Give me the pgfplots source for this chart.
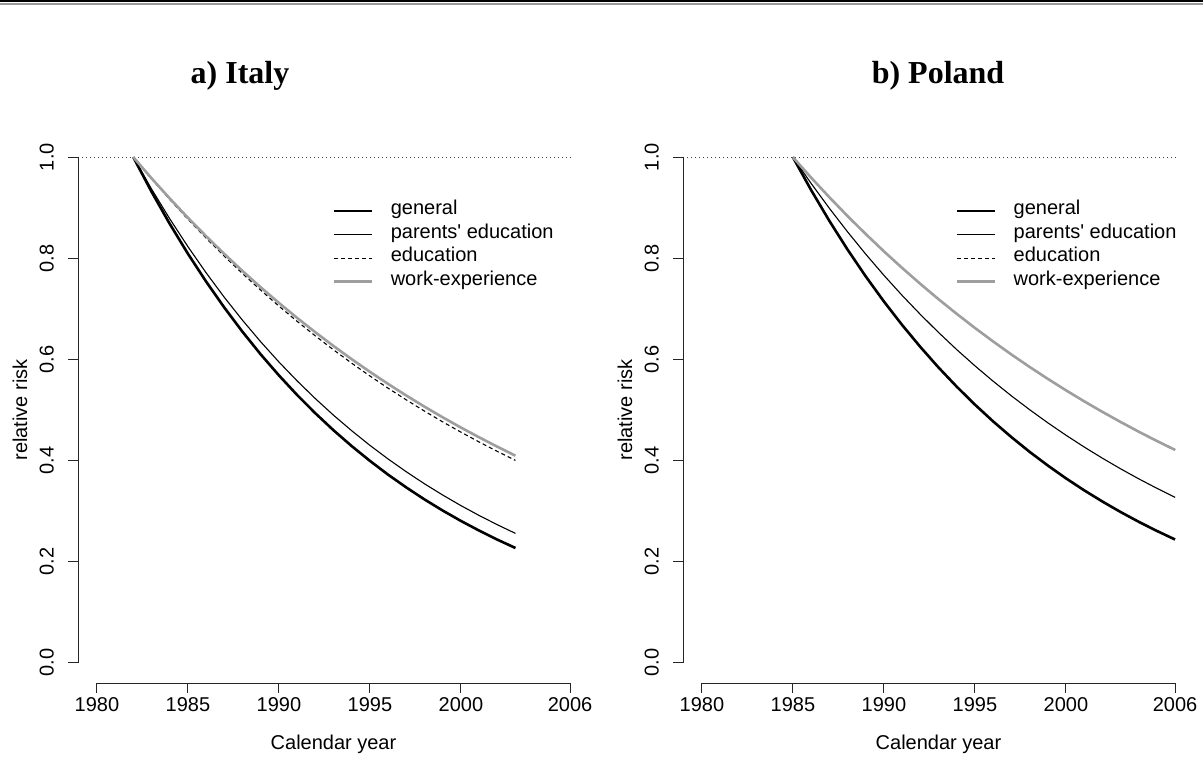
\documentclass[border=0pt]{standalone}
\usepackage{fontspec}
\setmainfont{Liberation Sans}
\newfontfamily\titlefont{Liberation Serif}
\usepackage{pgfplots}
\usepackage{pgfplotstable}
\pgfplotsset{compat=1.18}
\definecolor{wgray}{gray}{0.62}

\pgfplotstableread{
year gen par edu wrk
1982 1.0000 1.0000 1.0000 1.0000
1983 0.9318 0.9372 0.9573 0.9584
1984 0.8683 0.8783 0.9165 0.9185
1985 0.8091 0.8231 0.8774 0.8803
1986 0.7540 0.7714 0.8400 0.8437
1987 0.7026 0.7229 0.8041 0.8086
1988 0.6547 0.6775 0.7698 0.7749
1989 0.6100 0.6349 0.7370 0.7427
1990 0.5685 0.5950 0.7055 0.7118
1991 0.5297 0.5576 0.6754 0.6822
1992 0.4936 0.5226 0.6466 0.6538
1993 0.4599 0.4897 0.6190 0.6266
1994 0.4286 0.4590 0.5926 0.6005
1995 0.3994 0.4301 0.5673 0.5755
1996 0.3721 0.4031 0.5431 0.5516
1997 0.3468 0.3778 0.5200 0.5286
1998 0.3231 0.3540 0.4978 0.5066
1999 0.3011 0.3318 0.4765 0.4855
2000 0.2806 0.3109 0.4562 0.4653
2001 0.2615 0.2914 0.4368 0.4460
2002 0.2436 0.2731 0.4181 0.4274
2003 0.2270 0.2559 0.4003 0.4096
}\italy

\pgfplotstableread{
year gen par edu wrk
1985 1.0000 1.0000 1.0000 1.0000
1986 0.9350 0.9482 0.9596 0.9596
1987 0.8742 0.8991 0.9209 0.9209
1988 0.8174 0.8525 0.8837 0.8837
1989 0.7643 0.8083 0.8481 0.8481
1990 0.7146 0.7664 0.8138 0.8138
1991 0.6682 0.7267 0.7810 0.7810
1992 0.6248 0.6891 0.7495 0.7495
1993 0.5841 0.6534 0.7192 0.7192
1994 0.5462 0.6195 0.6902 0.6902
1995 0.5107 0.5874 0.6623 0.6623
1996 0.4775 0.5570 0.6356 0.6356
1997 0.4465 0.5281 0.6099 0.6099
1998 0.4174 0.5008 0.5853 0.5853
1999 0.3903 0.4748 0.5617 0.5617
2000 0.3649 0.4502 0.5390 0.5390
2001 0.3412 0.4269 0.5173 0.5173
2002 0.3191 0.4048 0.4964 0.4964
2003 0.2983 0.3838 0.4764 0.4764
2004 0.2789 0.3639 0.4571 0.4571
2005 0.2608 0.3451 0.4387 0.4387
2006 0.2438 0.3272 0.4210 0.4210
}\poland

\newcommand{\rfont}{\fontsize{20}{24}\selectfont}

\pgfplotsset{
  rstyle/.style={
    scale only axis, width=511pt, height=546pt,
    anchor=south west,
    xmin=1978.96, xmax=2007.04, ymin=-0.04, ymax=1.04,
    axis x line*=bottom, axis y line*=left,
    axis line style={draw=none},
    xtick={1980,1985,1990,1995,2000,2006},
    xticklabels={1980,1985,1990,1995,2000,2006},
    ytick={0,0.2,0.4,0.6,0.8,1},
    yticklabels={0.0,0.2,0.4,0.6,0.8,1.0},
    /pgf/number format/assume math mode=true,
    tick align=outside, major tick length=10pt,
    tick style={black!85, line width=0.9pt},
    tick label style={font=\rfont, inner sep=0pt},
    xticklabel style={anchor=north, yshift=-4pt},
    yticklabel style={xshift=-14pt, rotate=90, anchor=south},
    label style={font=\rfont, inner sep=0pt},
    xlabel={Calendar year},
    ylabel={relative risk},
    xlabel style={at={(axis description cs:0.5,-0.1209)}, anchor=base},
    ylabel style={at={(axis description cs:-0.0998,0.5)}, anchor=base},
    legend style={draw=none, fill=none, inner sep=0pt, row sep=4.6pt,
      font=\rfont,
      nodes={inner sep=0pt, text height=15pt, text depth=4pt}},
    legend cell align=left,
    legend image code/.code={\draw[##1] (0pt,-2pt) -- (38pt,-2pt); \path (55pt,-2pt);},
    clip=false,
  },
  gen/.style={black, line width=2.6pt, line join=round},
  par/.style={black, line width=1.1pt, line join=round},
  edu/.style={black, line width=1.1pt, dash pattern=on 4pt off 3pt},
  wrk/.style={wgray, line width=2.6pt, line join=round},
  refl/.style={black!75, line width=1.2pt, dash pattern=on 1.2pt off 2.8pt},
}

\begin{document}
\begin{tikzpicture}
\path[use as bounding box] (0,0) rectangle (1203pt,765pt);

\begin{axis}[rstyle, at={(78pt,82pt)},
  legend style={at={(axis description cs:0.499,0.886)}, anchor=north west}]
  \addplot[refl, forget plot] coordinates {(1978.96,1) (2006,1)};
  \addplot[gen] table[x=year, y=gen] {\italy};
  \addplot[par] table[x=year, y=par] {\italy};
  \addplot[edu] table[x=year, y=edu] {\italy};
  \addplot[wrk] table[x=year, y=wrk] {\italy};
  \legend{general, parents\textquotesingle{} education, education, work-experience}
  \draw[black!85, line width=0.9pt] (axis cs:1980,-0.04) -- (axis cs:2006,-0.04);
  \draw[black!85, line width=0.9pt] (axis cs:1978.96,0) -- (axis cs:1978.96,1);
\end{axis}

\begin{axis}[rstyle, at={(683pt,82pt)},
  legend style={at={(axis description cs:0.534,0.886)}, anchor=north west}]
  \addplot[refl, forget plot] coordinates {(1978.96,1) (2006,1)};
  \addplot[gen] table[x=year, y=gen] {\poland};
  \addplot[par] table[x=year, y=par] {\poland};
  \addplot[edu] table[x=year, y=edu] {\poland};
  \addplot[wrk] table[x=year, y=wrk] {\poland};
  \legend{general, parents\textquotesingle{} education, education, work-experience}
  \draw[black!85, line width=0.9pt] (axis cs:1980,-0.04) -- (axis cs:2006,-0.04);
  \draw[black!85, line width=0.9pt] (axis cs:1978.96,0) -- (axis cs:1978.96,1);
\end{axis}

\draw[line width=2pt, black] (0,763.5pt) -- (1203pt,763.5pt);
\draw[line width=1.5pt, black!40] (0,761pt) -- (1203pt,761pt);
\node[anchor=base, inner sep=0pt, font=\titlefont\bfseries\fontsize{32}{38}\selectfont] at (240pt,681pt) {a) Italy};
\node[anchor=base, inner sep=0pt, font=\titlefont\bfseries\fontsize{32}{38}\selectfont] at (938pt,681pt) {b) Poland};
\end{tikzpicture}
\end{document}
